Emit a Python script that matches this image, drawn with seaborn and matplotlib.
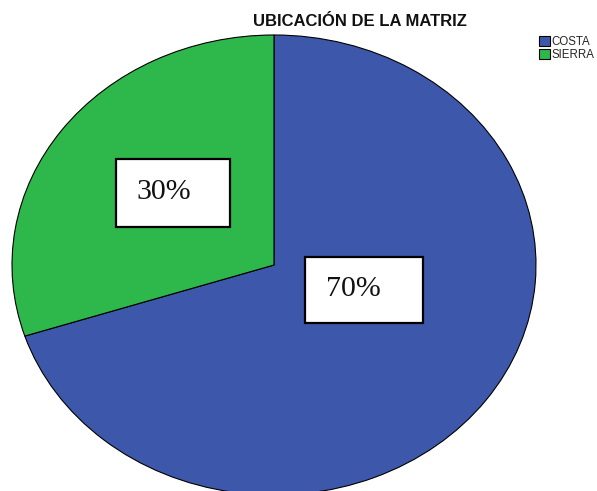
import matplotlib
matplotlib.use("Agg")
import matplotlib.pyplot as plt
import seaborn as sns
from matplotlib.patches import Rectangle, Patch

categories = ["COSTA", "SIERRA"]
values = [70, 30]
labels = ["70%", "30%"]
colors = ["#3d58aa", "#2eb84b"]

sns.set_theme(style="white")
plt.rcParams["font.family"] = ["Liberation Sans", "DejaVu Sans"]

W, H = 597, 491
fig = plt.figure(figsize=(W / 100, H / 100), dpi=100)

# ellipse bounds in pixels: x 12..536, y 35..495 (top-down)
ax = fig.add_axes([12 / W, (H - 495) / H, 524 / W, 460 / H])
wedges, _ = ax.pie(values, colors=colors, startangle=90, counterclock=False,
                   wedgeprops=dict(edgecolor="black", linewidth=0.8))
ax.set_aspect("auto")
ax.set_xlim(-1, 1)
ax.set_ylim(-1, 1)
ax.axis("off")

def fx(px):
    return px / W

def fy(py):
    return 1 - py / H

# label boxes (pixel layout)
boxes = {
    "SIERRA": (116, 159, 230, 227, 164, 192),
    "COSTA": (305, 257, 423, 323, 353, 289),
}
for cat, lab in zip(categories, labels):
    x0, y0, x1, y1, tx, ty = boxes[cat]
    fig.patches.append(Rectangle((fx(x0), fy(y1)), fx(x1) - fx(x0), fy(y0) - fy(y1),
                                 transform=fig.transFigure, facecolor="white",
                                 edgecolor="black", linewidth=1.6, zorder=5))
    fig.text(fx(tx), fy(ty), lab, ha="center", va="center", fontsize=21.5,
             family=["Liberation Serif", "DejaVu Serif"], color="#111111", zorder=6)

fig.text(fx(360), fy(21), "UBICACIÓN DE LA MATRIZ", ha="center", va="center",
         fontsize=12, fontweight="bold", color="#111111")

handles = [Patch(facecolor=c, edgecolor="black", linewidth=0.8) for c in colors]
fig.legend(handles, categories, loc="upper left", bbox_to_anchor=(fx(538), fy(35)),
           frameon=False, fontsize=8.3, handlelength=0.95, handleheight=1.0,
           handletextpad=0.2, labelspacing=0.1, borderpad=0.05, borderaxespad=0)

fig.savefig("out.png", dpi=100, facecolor="white")
